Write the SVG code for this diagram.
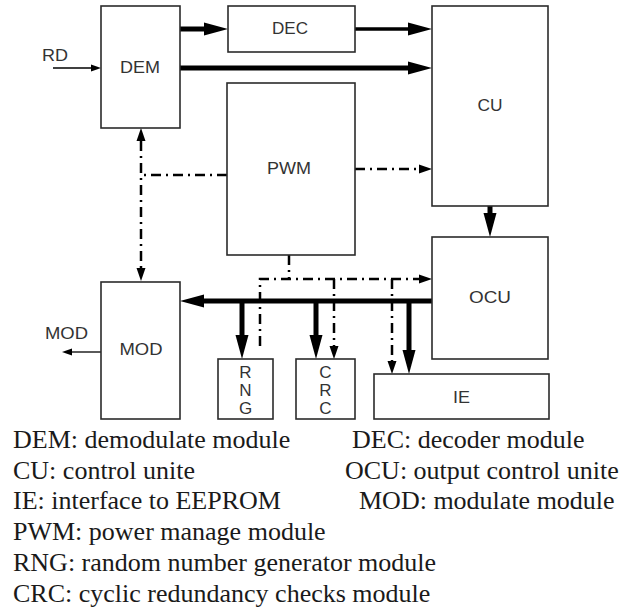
<svg xmlns="http://www.w3.org/2000/svg" width="626" height="608" viewBox="0 0 626 608">
<style>
.box{fill:#fff;stroke:#2b2b2b;stroke-width:1.6}
.lbl{font-family:"Liberation Sans",Arial,sans-serif;font-size:16px;fill:#333}
.vl{font-family:"Liberation Sans",Arial,sans-serif;font-size:17px;fill:#333}
.leg{font-family:"Liberation Serif","Times New Roman",serif;font-size:26px;fill:#1a1a1a}
.thick{stroke:#000;stroke-width:5;fill:none}
.med{stroke:#000;stroke-width:3.5;fill:none}
.dd{stroke:#000;stroke-width:2.5;stroke-dasharray:10 5 2 5;fill:none}
.thin{stroke:#000;stroke-width:1.3;fill:none}
</style>
<defs>
<marker id="ah" viewBox="0 -7 24 14" markerWidth="24" markerHeight="14" refX="0" refY="0" orient="auto" markerUnits="userSpaceOnUse"><path d="M0,-6.5 L24,0 L0,6.5 z" fill="#000"/></marker>
<marker id="ad" viewBox="0 -5 13 10" markerWidth="13" markerHeight="10" refX="0" refY="0" orient="auto-start-reverse" markerUnits="userSpaceOnUse"><path d="M0,-4.5 L13,0 L0,4.5 z" fill="#000"/></marker>
<marker id="at" viewBox="0 -4 10 8" markerWidth="10" markerHeight="8" refX="0" refY="0" orient="auto" markerUnits="userSpaceOnUse"><path d="M0,-3.5 L10,0 L0,3.5 z" fill="#000"/></marker>
</defs>

<g id="connectors">
<line class="thin" x1="53" y1="68" x2="91" y2="68" marker-end="url(#at)"/>
<line class="thick" x1="180" y1="29" x2="204" y2="29" marker-end="url(#ah)"/>
<line class="thick" x1="180" y1="68" x2="408" y2="68" stroke-width="5.5" marker-end="url(#ah)"/>
<line class="med" x1="355" y1="29" x2="408" y2="29" marker-end="url(#ah)"/>
<line class="thick" x1="490" y1="206" x2="490" y2="213" stroke-width="4.5" marker-end="url(#ah)"/>
<line class="thick" x1="432" y1="301" x2="204" y2="301" marker-end="url(#ah)"/>
<line class="thick" x1="242" y1="299" x2="242" y2="335" marker-end="url(#ah)"/>
<line class="thick" x1="316" y1="299" x2="316" y2="335" marker-end="url(#ah)"/>
<line class="thick" x1="409" y1="299" x2="409" y2="350" marker-end="url(#ah)"/>
<path class="dd" d="M289,255 V279"/>
<path class="dd" d="M260,346 V279 H419" marker-end="url(#ad)"/>
<path class="dd" d="M334,279 V346" marker-end="url(#ad)"/>
<path class="dd" d="M392,279 V361" marker-end="url(#ad)"/>
<path class="dd" d="M355,169 H419" marker-end="url(#ad)"/>
<path class="dd" d="M141,141 V268" stroke-width="3" marker-start="url(#ad)" marker-end="url(#ad)"/>
<path class="dd" d="M227,175 H141"/>
<line class="thin" x1="101" y1="352" x2="72" y2="352" marker-end="url(#at)"/>
</g>

<g id="DEM"><rect class="box" x="101" y="6" width="79" height="122"/><text class="lbl" x="140" y="73" text-anchor="middle" textLength="40" lengthAdjust="spacingAndGlyphs">DEM</text></g>
<g id="DEC"><rect class="box" x="228" y="6" width="127" height="46"/><text class="lbl" x="290" y="34" text-anchor="middle" textLength="36" lengthAdjust="spacingAndGlyphs">DEC</text></g>
<g id="CU"><rect class="box" x="432" y="6" width="116" height="200"/><text class="lbl" x="490" y="111" text-anchor="middle" textLength="25" lengthAdjust="spacingAndGlyphs">CU</text></g>
<g id="PWM"><rect class="box" x="227" y="83" width="128" height="172"/><text class="lbl" x="289" y="174" text-anchor="middle" textLength="44" lengthAdjust="spacingAndGlyphs">PWM</text></g>
<g id="OCU"><rect class="box" x="432" y="237" width="116" height="122"/><text class="lbl" x="490" y="303" text-anchor="middle" textLength="42" lengthAdjust="spacingAndGlyphs">OCU</text></g>
<g id="MOD"><rect class="box" x="101" y="282" width="79" height="137"/><text class="lbl" x="141" y="355" text-anchor="middle" textLength="43" lengthAdjust="spacingAndGlyphs">MOD</text></g>
<g id="RNG"><rect class="box" x="218" y="359" width="55" height="60"/><text class="vl" text-anchor="middle"><tspan x="245.5" y="378">R</tspan><tspan x="245.5" y="396">N</tspan><tspan x="245.5" y="414">G</tspan></text></g>
<g id="CRC"><rect class="box" x="296" y="359" width="59" height="60"/><text class="vl" text-anchor="middle"><tspan x="325.5" y="378">C</tspan><tspan x="325.5" y="396">R</tspan><tspan x="325.5" y="414">C</tspan></text></g>
<g id="IE"><rect class="box" x="374" y="374" width="175" height="45"/><text class="lbl" x="461.5" y="403" text-anchor="middle" textLength="17" lengthAdjust="spacingAndGlyphs">IE</text></g>

<g id="io-labels">
<text class="lbl" x="42" y="61" textLength="26" lengthAdjust="spacingAndGlyphs">RD</text>
<text class="lbl" x="45" y="339" textLength="43" lengthAdjust="spacingAndGlyphs">MOD</text>
</g>

<g id="legend">
<text class="leg" x="13" y="448">DEM: demodulate module</text>
<text class="leg" x="13" y="479">CU: control unite</text>
<text class="leg" x="13" y="509">IE: interface to EEPROM</text>
<text class="leg" x="13" y="540">PWM: power manage module</text>
<text class="leg" x="13" y="571">RNG: random number generator module</text>
<text class="leg" x="13" y="602">CRC: cyclic redundancy checks module</text>
<text class="leg" x="352" y="448">DEC: decoder module</text>
<text class="leg" x="345" y="479">OCU: output control unite</text>
<text class="leg" x="359" y="509">MOD: modulate module</text>
</g>
</svg>
